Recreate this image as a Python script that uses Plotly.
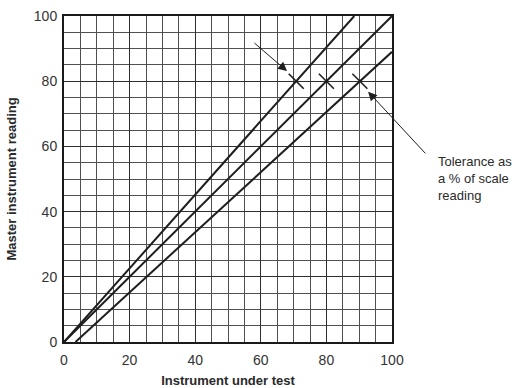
import plotly.graph_objects as go

# Data
ideal_x = [0, 100]
ideal_y = [0, 100]
upper_x = [0, 88.5]
upper_y = [0, 100]
lower_x = [3.5, 100]
lower_y = [0, 89]
mark_x = [70.8, 80, 90.2]
mark_y = [80, 80, 80]
tick_vals = [0, 20, 40, 60, 80, 100]
note_text = "Tolerance as<br>a % of scale<br>reading"

LINE = "#1e1e1e"
FONT = "Liberation Sans, Arial, sans-serif"

fig = go.Figure()
for xs, ys in [(upper_x, upper_y), (ideal_x, ideal_y), (lower_x, lower_y)]:
    fig.add_trace(go.Scatter(x=xs, y=ys, mode="lines",
                             line=dict(color=LINE, width=2), showlegend=False,
                             hoverinfo="skip"))
fig.add_trace(go.Scatter(x=mark_x, y=mark_y, mode="markers",
                         marker=dict(symbol="line-nw", size=15,
                                     line=dict(color=LINE, width=1.6)),
                         showlegend=False, hoverinfo="skip"))

axis_common = dict(
    range=[0, 100], tickvals=tick_vals, ticks="", showgrid=True,
    gridcolor="#2e2e2e", gridwidth=1,
    minor=dict(dtick=5, showgrid=True, gridcolor="#505050", gridwidth=1),
    showline=True, linecolor="#1a1a1a", linewidth=2, mirror=True,
    zeroline=False, tickfont=dict(family=FONT, size=14, color="#333"),
    fixedrange=True, automargin=False,
)
fig.update_xaxes(**axis_common, ticklabelstandoff=4,
                 title=dict(text="<b>Instrument under test</b>",
                            font=dict(family=FONT, size=13, color="#2a2a2a"),
                            standoff=14))
fig.update_yaxes(**axis_common, ticklabelstandoff=2,
                 title=dict(text="<b>Master instrument reading</b>",
                            font=dict(family=FONT, size=13, color="#2a2a2a"),
                            standoff=14))

fig.add_annotation(x=68.0, y=83.1, ax=57.6, ay=92.1, xref="x", yref="y",
                   axref="x", ayref="y", showarrow=True, arrowhead=2,
                   arrowsize=1.8, arrowwidth=1, arrowcolor=LINE, text="")
fig.add_annotation(x=92.7, y=76.8, ax=110.6, ay=57.4, xref="x", yref="y",
                   axref="x", ayref="y", showarrow=True, arrowhead=2,
                   arrowsize=1.8, arrowwidth=1, arrowcolor=LINE, text="")
fig.add_annotation(x=(436 - 64) / 328, y=(342 - 152) / 326,
                   xref="paper", yref="paper",
                   text="<span style='line-height:1.35'>" + note_text + "</span>",
                   showarrow=False, xanchor="left", yanchor="top", align="left",
                   font=dict(family=FONT, size=13, color="#2a2a2a"))

fig.update_layout(
    width=528, height=388, autosize=False,
    margin=dict(l=64, r=136, t=16, b=46),
    plot_bgcolor="white", paper_bgcolor="white",
)
fig.write_html("out.html")
